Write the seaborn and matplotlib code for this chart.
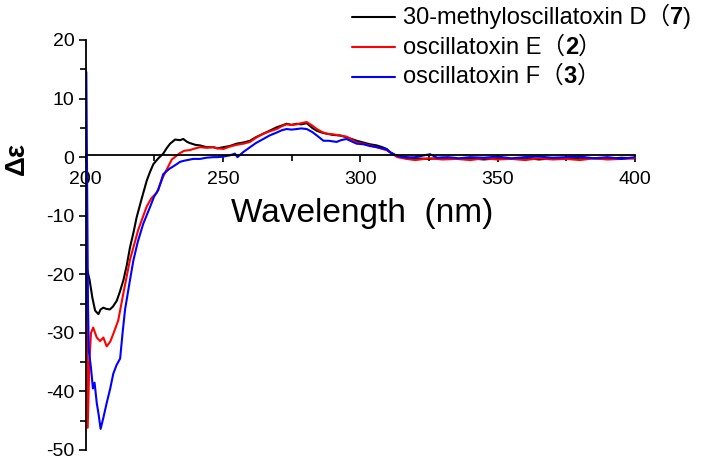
import numpy as np
import pandas as pd
import matplotlib
matplotlib.use("Agg")
import matplotlib.pyplot as plt
import seaborn as sns
from matplotlib import font_manager
from matplotlib.ticker import MultipleLocator
from matplotlib.offsetbox import (TextArea, DrawingArea, HPacker, VPacker, AnchoredOffsetbox)
from matplotlib.lines import Line2D

# ---------------- data ----------------
wl_black = [200, 200.5, 201.5, 202.5, 203.5, 204.7, 205.5, 206.5, 207.5, 208.9, 210, 211.4, 212.5,
            213.8, 215, 216.2, 217.5, 218.6, 220.5, 222.3, 223.5, 224.7, 226.5, 228.3, 229.5, 230.8,
            232.6, 234.4, 235.6, 237, 238, 240, 241.7, 244, 246.5, 248, 250.2, 252.5, 255, 257.5,
            259.9, 262, 264.7, 267, 269.6, 271.5, 273.2, 275, 276.9, 278.5, 280.5, 282.5, 284.2,
            286, 287.8, 290, 292.6, 295, 298.7, 301.1, 303.5, 306, 308, 309.6, 311, 312.6, 314.5,
            316.8, 320, 325, 330, 335, 340, 345, 350, 355, 360, 365, 370, 375, 380, 385, 390, 395, 400]
cd_black = [-14, -19, -21, -24, -26.2, -26.8, -26.0, -25.7, -25.9, -26.0, -25.5, -24.5, -23,
            -21, -18.5, -15.4, -12.8, -10.3, -7, -4, -2.5, -1.2, -0.2, 0.6, 1.5, 2.3,
            3.0, 2.9, 3.1, 2.6, 2.4, 2.1, 2.0, 1.7, 1.7, 1.5, 1.7, 1.9, 2.3, 2.5,
            2.8, 3.4, 4.0, 4.5, 5.1, 5.4, 5.7, 5.5, 5.7, 5.6, 5.8, 5.0, 4.5,
            4.2, 4.0, 3.8, 3.7, 3.4, 2.8, 2.5, 2.2, 2.0, 1.7, 1.4, 0.8, 0.4, 0.1,
            0.0, -0.2, -0.3, -0.1, -0.3, -0.2, -0.4, -0.2, -0.3, -0.1, -0.4, -0.2, -0.3, -0.1, -0.2, -0.3, -0.1, -0.2]

wl_red = [200, 200.4, 200.8, 201.4, 202, 202.8, 204.1, 205.3, 206.5, 207.7, 209, 210.1, 211.9,
          213.8, 216.2, 219.2, 222.3, 224, 225.9, 228.3, 231.4, 234.4, 236, 238, 239.2, 241.7,
          244, 246.5, 248, 250.2, 252.5, 255, 257.5, 259.9, 262, 264.7, 267, 269.6, 271.5, 273.2,
          275, 276.9, 278.5, 280.5, 282.5, 284.2, 286, 287.8, 290, 292.6, 295, 298.7, 301.1,
          303.5, 306, 308, 309.6, 311.5, 313.5, 316.8, 320, 325, 330, 335, 340, 345, 350, 355,
          360, 365, 370, 375, 380, 385, 390, 395, 400]
cd_red = [-5, -20, -46.2, -35, -30, -29.1, -30.8, -31.4, -30.8, -32.3, -31.5, -30.2, -27.9,
          -23.2, -17.5, -12.4, -8.4, -7.0, -6.1, -3.3, -0.4, 0.7, 1.1, 1.2, 1.4, 1.7,
          1.6, 1.7, 1.5, 1.4, 1.8, 2.1, 2.3, 2.6, 3.3, 4.0, 4.4, 4.8, 5.3, 5.6,
          5.5, 5.6, 5.8, 6.0, 5.4, 4.8, 4.3, 4.0, 3.9, 3.7, 3.5, 2.5, 2.3,
          2.0, 1.7, 1.4, 1.2, 0.6, 0.0, -0.3, -0.5, -0.2, -0.4, -0.3, -0.5, -0.2, -0.4, -0.3,
          -0.5, -0.2, -0.4, -0.3, -0.5, -0.2, -0.4, -0.3, -0.2]

wl_blue = [200, 200.3, 200.9, 201.2, 202, 202.7, 203.3, 204.1, 204.8, 205.5, 206.5, 207.7, 209,
           210.1, 211.3, 212.6, 213.5, 214.4, 216, 217.4, 219, 221, 223.5, 225, 226.5, 228.3, 230.5,
           233.2, 234.4, 236, 239.2, 241.7, 244, 246.5, 248, 250.2, 252.5, 254.4, 255.3, 257.5,
           259.9, 262, 264.7, 267, 269.6, 271.5, 273.2, 275, 276.9, 278.5, 280.5, 282.5, 284.2,
           286.6, 288.5, 291.4, 293, 295, 296.8, 298.7, 301.1, 303.5, 306, 308, 309.6, 311, 312.6,
           314.5, 317, 320, 325.4, 328, 332, 336, 340, 345, 350, 355, 360, 365, 370, 375, 380,
           385, 390, 395, 400]
cd_blue = [14.8, 14.5, -25, -33, -36, -39.5, -38.5, -42, -44, -46.4, -44.5, -42, -39.5,
           -37, -35.5, -34.4, -30, -26, -21.5, -17.7, -14.5, -11.4, -8.5, -6.7, -5.6, -2.9, -2.0,
           -1.2, -0.8, -0.6, -0.3, -0.3, -0.1, 0.0, 0.0, 0.1, 0.3, 0.6, 0.0, 0.9,
           1.7, 2.4, 3.1, 3.7, 4.2, 4.6, 4.8, 4.7, 4.8, 4.9, 4.8, 4.3, 3.7,
           2.8, 2.8, 2.6, 2.9, 3.1, 2.7, 2.3, 2.2, 1.9, 1.7, 1.5, 1.3, 0.8, 0.4,
           0.1, -0.1, 0.0, 0.5, -0.1, 0.0, -0.2, 0.0, -0.1, 0.1, -0.2, 0.0, 0.1, -0.1, 0.0, 0.1,
           -0.2, 0.0, -0.3, 0.0]

series_names = ["30-methyloscillatoxin D", "oscillatoxin E", "oscillatoxin F"]
compound_numbers = ["7", "2", "3"]
open_parens = ["（", "（", "（"]
close_parens = [")", "）", "）"]
colors = ["#000000", "#ff0000", "#0000ff"]
x_ticks = [200, 250, 300, 350, 400]
y_ticks = [-50, -40, -30, -20, -10, 0, 10, 20]

# ---------------- fonts ----------------
avail = {f.name for f in font_manager.fontManager.ttflist}
narrow = "Liberation Sans Narrow" if "Liberation Sans Narrow" in avail else "Liberation Sans"
regular = "Liberation Sans"
cjk = "Noto Sans CJK SC"

sns.set_theme(style="white")
plt.rcParams["font.family"] = [narrow, cjk, "DejaVu Sans"]
plt.rcParams["axes.unicode_minus"] = False

df = pd.concat([
    pd.DataFrame({"wl": wl_black, "cd": cd_black, "s": series_names[0]}),
    pd.DataFrame({"wl": wl_red, "cd": cd_red, "s": series_names[1]}),
    pd.DataFrame({"wl": wl_blue, "cd": cd_blue, "s": series_names[2]}),
], ignore_index=True)

fig = plt.figure(figsize=(7.03, 4.62), dpi=100)
ax = fig.add_axes([85.5 / 703, 1 - 450 / 462, 549.5 / 703, 410 / 462])

sns.lineplot(data=df, x="wl", y="cd", hue="s", palette=colors, hue_order=series_names,
             sort=False, estimator=None, linewidth=1.5, ax=ax, legend=False)

ax.set_xlim(200, 400)
ax.set_ylim(-50, 20)
ax.set_facecolor("white")
for side in ["top", "right"]:
    ax.spines[side].set_visible(False)
ax.spines["bottom"].set_position(("data", 0.4))
for side in ["bottom", "left"]:
    ax.spines[side].set_linewidth(1.3)
    ax.spines[side].set_color("black")

ax.set_xticks(x_ticks)
ax.set_yticks(y_ticks)
ax.xaxis.set_minor_locator(MultipleLocator(25))
ax.yaxis.set_minor_locator(MultipleLocator(5))
ax.tick_params(axis="both", which="both", direction="out", color="black", width=1.2,
               bottom=True, left=True)
ax.tick_params(axis="both", which="major", length=5, labelsize=14, labelcolor="black")
ax.tick_params(axis="both", which="minor", length=4)
ax.tick_params(axis="x", which="major", pad=7)
ax.tick_params(axis="y", which="major", pad=3)
ax.set_xlabel("")
ax.set_ylabel("")
ax.grid(False)

ax.text(0.503, 0.576, "Wavelength  (nm)", transform=ax.transAxes, ha="center", va="center",
        fontsize=24, family=[regular, "DejaVu Sans"], color="black")
fig.text(17 / 703, 1 - 158 / 462, "Δε", rotation=90, ha="center", va="center",
         fontsize=20, fontweight="bold", family=[regular, "DejaVu Sans"], color="black")

# ---------------- legend built from text pieces ----------------
fs = 17
px = 72 / 100.0  # points per pixel
rows = []
for name, num, op, cp, c in zip(series_names, compound_numbers, open_parens, close_parens, colors):
    da = DrawingArea(43 * px, 10 * px, 0, 0)
    da.add_artist(Line2D([0, 43 * px], [5 * px, 5 * px], color=c, linewidth=1.5))
    parts = [
        TextArea(name + op, textprops=dict(fontsize=fs, color="black", family=[regular, cjk])),
        TextArea(num, textprops=dict(fontsize=fs, color="black", fontweight="bold", family=[regular])),
        TextArea(cp, textprops=dict(fontsize=fs, color="black", family=[regular, cjk])),
    ]
    txt = HPacker(children=parts, align="baseline", pad=0, sep=0)
    rows.append(HPacker(children=[da, txt], align="center", pad=0, sep=8 * px))
box = VPacker(children=rows, align="left", pad=0, sep=6.5 * px)
anch = AnchoredOffsetbox(loc="upper left", child=box, pad=0, frameon=False,
                         bbox_to_anchor=(352 / 703, 1 - 4 / 462), bbox_transform=fig.transFigure,
                         borderpad=0)
fig.add_artist(anch)

fig.savefig("out.png", dpi=100)
